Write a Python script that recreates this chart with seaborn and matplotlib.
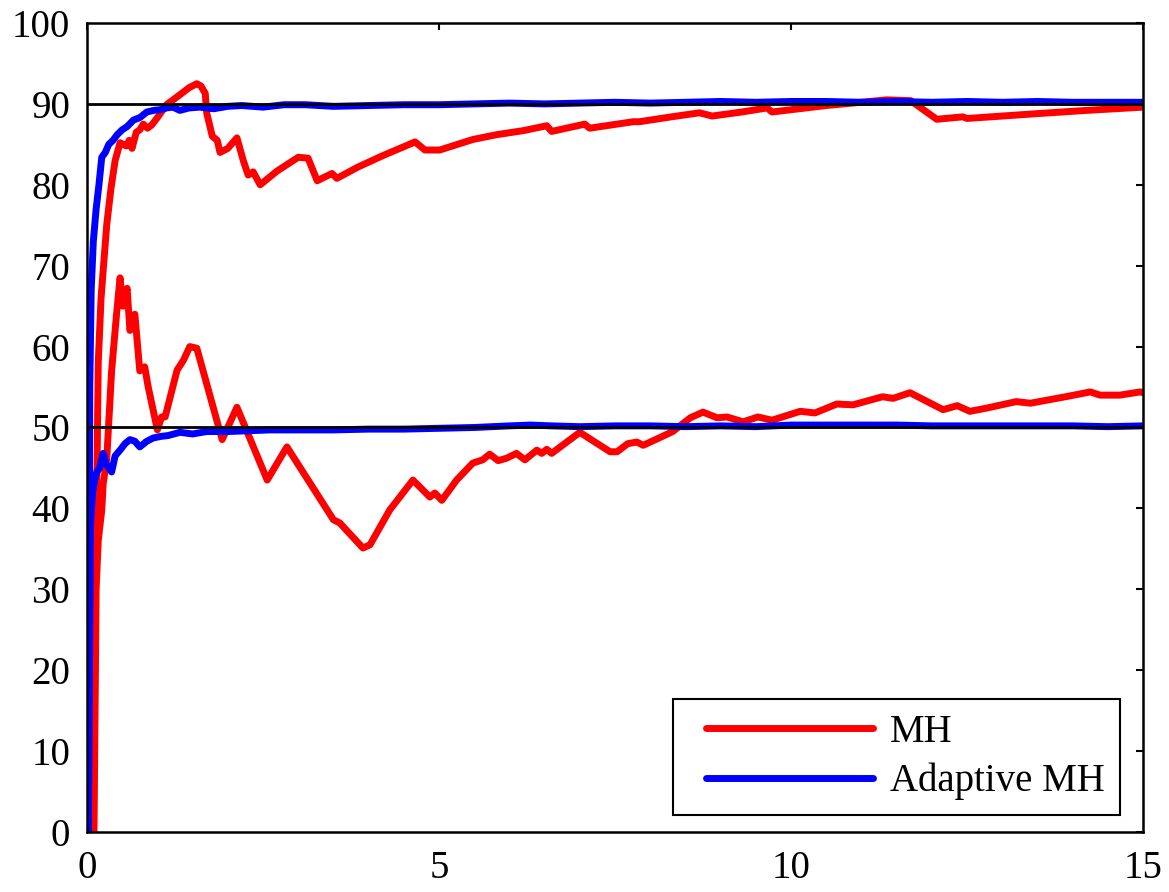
import matplotlib
matplotlib.use("Agg")
import matplotlib.pyplot as plt
from matplotlib.legend_handler import HandlerLine2D
from matplotlib.lines import Line2D
import pandas as pd
import seaborn as sns

# Running estimates of the two parameters for plain and adaptive Metropolis-Hastings
mh_hi_x = [0.09, 0.11, 0.12, 0.14, 0.16, 0.20, 0.28, 0.34, 0.40, 0.47, 0.51, 0.56, 0.60, 0.64,
           0.70, 0.75, 0.80, 0.86, 0.92, 1.00, 1.13, 1.30, 1.45, 1.56, 1.62, 1.68, 1.70, 1.78,
           1.85, 1.89, 2.00, 2.13, 2.22, 2.29, 2.36, 2.46, 2.70, 3.00, 3.14, 3.27, 3.48, 3.55,
           3.85, 4.20, 4.66, 4.80, 5.01, 5.48, 5.82, 6.20, 6.53, 6.60, 7.07, 7.14, 7.76, 7.85,
           8.30, 8.70, 8.88, 9.30, 9.66, 9.73, 10.50, 11.36, 11.70, 12.07, 12.44, 12.50, 13.50,
           14.20, 15.00]
mh_hi_y = [0.0, 19.0, 31.0, 43.0, 58.0, 66.0, 75.0, 79.5, 83.0, 85.2, 85.0, 84.8, 85.5, 84.5,
           86.5, 86.8, 87.5, 87.0, 87.4, 88.3, 89.9, 91.0, 92.0, 92.5, 92.2, 91.3, 88.9, 86.0,
           85.5, 84.0, 84.5, 85.8, 83.0, 81.2, 81.6, 80.0, 81.7, 83.4, 83.3, 80.5, 81.4, 80.8,
           82.2, 83.6, 85.3, 84.3, 84.3, 85.6, 86.2, 86.7, 87.3, 86.6, 87.5, 87.0, 87.8, 87.8,
           88.4, 88.9, 88.5, 89.0, 89.5, 89.0, 89.8, 90.5, 90.4, 88.1, 88.4, 88.2, 88.8,
           89.2, 89.6]

mh_lo_x = [0.10, 0.12, 0.13, 0.16, 0.21, 0.23, 0.28, 0.35, 0.42, 0.47, 0.51, 0.57, 0.61, 0.68,
           0.75, 0.82, 0.87, 1.00, 1.06, 1.11, 1.28, 1.37, 1.46, 1.56, 1.92, 2.13, 2.56, 2.84,
           3.50, 3.59, 3.92, 4.02, 4.30, 4.63, 4.87, 4.94, 5.04, 5.25, 5.48, 5.62, 5.72, 5.84,
           5.96, 6.10, 6.22, 6.39, 6.46, 6.53, 6.60, 7.00, 7.43, 7.53, 7.68, 7.81, 7.90, 8.10,
           8.32, 8.57, 8.75, 8.95, 9.09, 9.32, 9.53, 9.73, 10.13, 10.34, 10.65, 10.88, 11.30,
           11.45, 11.69, 12.16, 12.36, 12.54, 12.78, 13.20, 13.40, 13.96, 14.25, 14.39, 14.67,
           14.96, 15.00]
mh_lo_y = [0.0, 20.0, 30.0, 36.0, 39.8, 43.0, 46.0, 57.0, 64.0, 68.5, 65.0, 67.2, 62.0, 64.0,
           57.0, 57.5, 55.0, 49.7, 51.3, 51.3, 57.1, 58.3, 60.0, 59.8, 48.5, 52.5, 43.5, 47.6,
           38.6, 38.2, 35.1, 35.5, 39.8, 43.5, 41.4, 41.9, 41.0, 43.5, 45.6, 46.0, 46.7, 45.9,
           46.2, 46.8, 46.0, 47.2, 46.8, 47.3, 46.8, 49.4, 47.0, 47.0, 48.0, 48.2, 47.8, 48.6,
           49.5, 51.2, 51.9, 51.2, 51.3, 50.7, 51.3, 50.9, 52.0, 51.8, 52.9, 52.8, 53.8,
           53.6, 54.3, 52.2, 52.7, 52.0, 52.4, 53.2, 53.0, 53.9, 54.4, 54.0, 54.0,
           54.4, 54.3]

amh_hi_x = [0.02, 0.04, 0.06, 0.09, 0.13, 0.17, 0.21, 0.26, 0.31, 0.37, 0.43, 0.50, 0.57, 0.66,
            0.75, 0.85, 0.95, 1.05, 1.13, 1.22, 1.32, 1.45, 1.60, 1.80, 2.00, 2.20, 2.50, 2.80,
            3.10, 3.50, 4.00, 4.50, 5.00, 5.50, 6.00, 6.50, 7.00, 7.50, 8.00, 8.50, 9.00, 9.50,
            10.00, 10.50, 11.00, 11.50, 12.00, 12.50, 13.00, 13.50, 14.00, 14.50, 15.00]
amh_hi_y = [0.0, 55.0, 67.0, 73.0, 77.0, 80.0, 83.4, 84.0, 85.0, 85.5, 86.2, 86.8, 87.2, 88.0,
            88.3, 89.0, 89.2, 89.3, 89.5, 89.6, 89.2, 89.5, 89.6, 89.4, 89.7, 89.8, 89.6, 89.9,
            89.9, 89.7, 89.8, 89.9, 89.9, 90.0, 90.1, 90.0, 90.1, 90.2, 90.1, 90.2, 90.3, 90.2,
            90.3, 90.3, 90.2, 90.3, 90.2, 90.3, 90.2, 90.3, 90.2, 90.2, 90.2]

amh_lo_x = [0.02, 0.05, 0.08, 0.11, 0.14, 0.18, 0.23, 0.27, 0.31, 0.35, 0.40, 0.47, 0.54, 0.61,
            0.68, 0.75, 0.85, 0.94, 1.05, 1.15, 1.32, 1.50, 1.70, 2.00, 2.30, 2.60, 3.00, 3.50,
            4.00, 4.50, 5.00, 5.50, 6.00, 6.30, 6.60, 7.00, 7.50, 8.00, 8.50, 9.00, 9.50, 10.00,
            10.50, 11.00, 11.50, 12.00, 12.50, 13.00, 13.50, 14.00, 14.50, 15.00]
amh_lo_y = [0.0, 38.0, 42.0, 43.5, 44.5, 45.0, 46.8, 45.5, 45.0, 44.5, 46.5, 47.2, 48.0, 48.5,
            48.3, 47.6, 48.3, 48.7, 48.9, 49.0, 49.4, 49.2, 49.5, 49.5, 49.6, 49.7, 49.7, 49.7,
            49.8, 49.8, 49.9, 50.0, 50.2, 50.3, 50.2, 50.1, 50.2, 50.2, 50.1, 50.2, 50.1, 50.3,
            50.3, 50.3, 50.3, 50.2, 50.2, 50.2, 50.2, 50.2, 50.1, 50.2]

true_values = [90, 50]
methods = ["MH", "Adaptive MH"]
colors = {"MH": "#ff0000", "Adaptive MH": "#0000ff"}
x_ticks = [0, 5, 10, 15]
y_ticks = [0, 10, 20, 30, 40, 50, 60, 70, 80, 90, 100]


def chain(x, y, method, name):
    return pd.DataFrame({"x": x, "y": y, "method": method, "chain": name})


df = pd.concat([
    chain(mh_hi_x, mh_hi_y, "MH", "mh_hi"),
    chain(mh_lo_x, mh_lo_y, "MH", "mh_lo"),
    chain(amh_hi_x, amh_hi_y, "Adaptive MH", "amh_hi"),
    chain(amh_lo_x, amh_lo_y, "Adaptive MH", "amh_lo"),
], ignore_index=True)

sns.set_theme(style="white")
plt.rcParams["font.family"] = ["Liberation Serif", "DejaVu Serif"]
plt.rcParams["text.color"] = "black"
plt.rcParams["axes.labelcolor"] = "black"

FS = 28
LW = 5.0

fig = plt.figure(figsize=(11.69, 8.92), dpi=100)
ax = fig.add_axes([0.0744, 0.0673, 0.9034, 0.9069])

sns.lineplot(data=df, x="x", y="y", hue="method", hue_order=methods, units="chain",
             estimator=None, sort=False, palette=colors, linewidth=LW, ax=ax)

for v in true_values:
    ax.axhline(v, color="black", linewidth=2.0, zorder=5)

ax.set_xlim(0, 15)
ax.set_ylim(0, 100)
ax.set_xticks(x_ticks)
ax.set_yticks(y_ticks)
ax.set_xticklabels([str(t) for t in x_ticks])
ax.set_yticklabels([str(t) for t in y_ticks])
ax.set_xlabel("")
ax.set_ylabel("")
ax.tick_params(axis="both", which="both", direction="in", length=5, width=1.5,
               top=True, right=True, labelsize=FS, colors="black", pad=12)
ax.tick_params(axis="x", pad=13)
for s in ax.spines.values():
    s.set_visible(True)
    s.set_color("black")
    s.set_linewidth(1.8)
    s.set_zorder(6)

handles, labels = ax.get_legend_handles_labels()
leg = ax.legend(handles, labels, loc="lower right", bbox_to_anchor=(0.978, 0.021),
                borderaxespad=0, fontsize=FS, handlelength=4.75, handletextpad=0.45,
                labelspacing=0.3, borderpad=0.38, fancybox=False, framealpha=1,
                edgecolor="black",
                handler_map={Line2D: HandlerLine2D(xpad=0.47)})
leg.get_frame().set_linewidth(1.5)
for line in leg.get_lines():
    line.set_linewidth(LW)
for t in leg.get_texts():
    t.set_color("black")

fig.savefig("out.png", dpi=100)
